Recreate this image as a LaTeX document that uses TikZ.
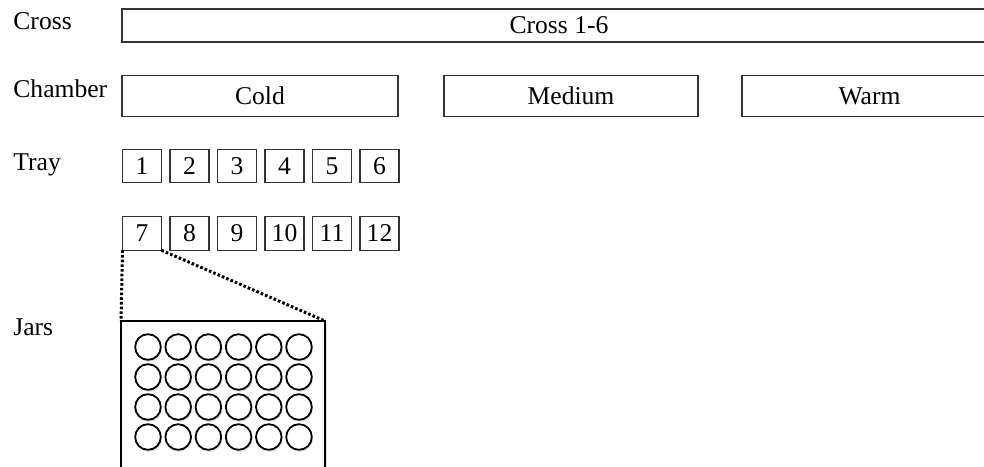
\documentclass[tikz,border=0pt]{standalone}
\usepackage{fontspec}
\setmainfont{Liberation Serif}
\usetikzlibrary{shadows}
\begin{document}
\begin{tikzpicture}[x=0.5pt,y=-0.5pt,
  lbl/.style={anchor=base west,inner sep=0pt,font=\fontsize{12.8}{15}\selectfont},
  bigbox/.style={draw=black!80,line width=0.6pt,inner sep=0pt,outer sep=0pt,text height=8.6pt,text depth=0.6pt,font=\fontsize{12.8}{15}\selectfont},
  traybox/.style={draw=black!80,line width=0.6pt,inner sep=0pt,outer sep=0pt,minimum width=19.5pt,minimum height=16.75pt,text height=8.6pt,text depth=0.6pt,font=\fontsize{12.8}{15}\selectfont},
  jarbox/.style={draw=black,line width=1pt,fill=white,inner sep=0pt,outer sep=0pt,minimum width=102pt,minimum height=79.5pt,drop shadow={opacity=0.25,shadow xshift=0.8pt,shadow yshift=-0.8pt}},
  jar/.style={circle,draw=black,line width=0.9pt,fill=white,inner sep=0pt,outer sep=0pt,minimum size=12.8pt,drop shadow={opacity=0.25,shadow xshift=0.6pt,shadow yshift=-1pt}},
  dotline/.style={line width=1.5pt,dash pattern=on 1.3pt off 1.05pt}]
\path[use as bounding box,clip] (0,0) rectangle (984,466);
% row labels
\node[lbl] (lcross) at (13,29) {Cross};
\node[lbl] (lchamber) at (13,97) {Chamber};
\node[lbl] (ltray) at (13,170) {Tray};
\node[lbl] (ljars) at (13,335) {Jars};
% cross
\node[bigbox,minimum width=437pt,minimum height=16.5pt] (cross) at (559,25.5) {Cross 1-6};
% chambers
\node[bigbox,minimum width=138pt,minimum height=20.75pt] (cold) at (260,96) {Cold};
\node[bigbox,minimum width=127pt,minimum height=20.75pt] (medium) at (571,96) {Medium};
\node[bigbox,minimum width=127.5pt,minimum height=20.75pt] (warm) at (869.5,96) {Warm};
% trays
\foreach \i in {1,...,6} {
  \node[traybox] (t\i) at ({142+47.5*(\i-1)},166) {\i};
}
\foreach \i in {7,...,12} {
  \node[traybox] (t\i) at ({142+47.5*(\i-7)},233.5) {\i};
}
% jars
\node[jarbox] (jars) at (223,400.5) {};
\foreach \r in {0,...,3} {
  \foreach \c in {0,...,5} {
    \node[jar] (j\r\c) at ({148+30.2*\c},{347+30*\r}) {};
  }
}
\draw[dotline] (t7.south west) -- (jars.north west);
\draw[dotline] (t7.south east) -- (jars.north east);
\end{tikzpicture}
\end{document}
